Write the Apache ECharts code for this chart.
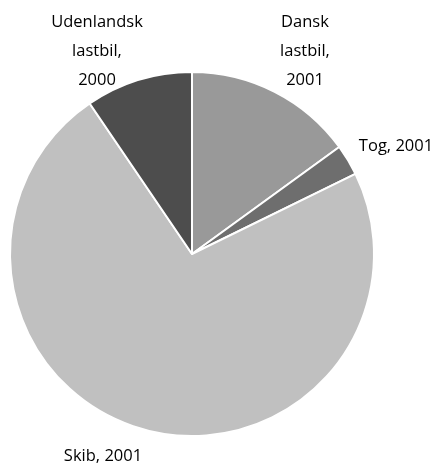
<!DOCTYPE html>
<html><head><meta charset="utf-8">
<script src="https://cdn.jsdelivr.net/npm/echarts@6/dist/echarts.min.js"></script>
<style>html,body{margin:0;padding:0;background:#fff}#c{width:438px;height:467px}</style>
</head><body><div id="c"></div>
<script>
const categories = ["Dansk\nlastbil,\n2001", "Tog, 2001", "Skib, 2001", "Udenlandsk\nlastbil,\n2000"];
const values = [15.0, 2.75, 72.75, 9.5];
const colors = ["#999999", "#6e6e6e", "#c0c0c0", "#4d4d4d"];
const labelPos = [[305, 51], [396, 146], [103, 456], [97, 51]];

const chart = echarts.init(document.getElementById('c'));
chart.setOption({
  animation: false,
  series: [{
    type: 'pie',
    center: [192, 254],
    radius: 182,
    startAngle: 90,
    clockwise: true,
    data: categories.map((n, i) => ({ name: n, value: values[i], itemStyle: { color: colors[i] } })),
    itemStyle: { borderColor: '#fff', borderWidth: 2 },
    label: {
      show: true,
      formatter: '{b}',
      color: '#000',
      fontFamily: 'Open Sans',
      fontSize: 16.5,
      lineHeight: 29,
      align: 'center',
      overflow: 'none',
      width: 200
    },
    labelLine: { show: false },
    labelLayout: function (p) {
      const pos = labelPos[p.dataIndex];
      return { x: pos[0], y: pos[1], align: 'center', verticalAlign: 'middle', hideOverlap: false };
    },
    emphasis: { disabled: true }
  }]
});
</script></body></html>
